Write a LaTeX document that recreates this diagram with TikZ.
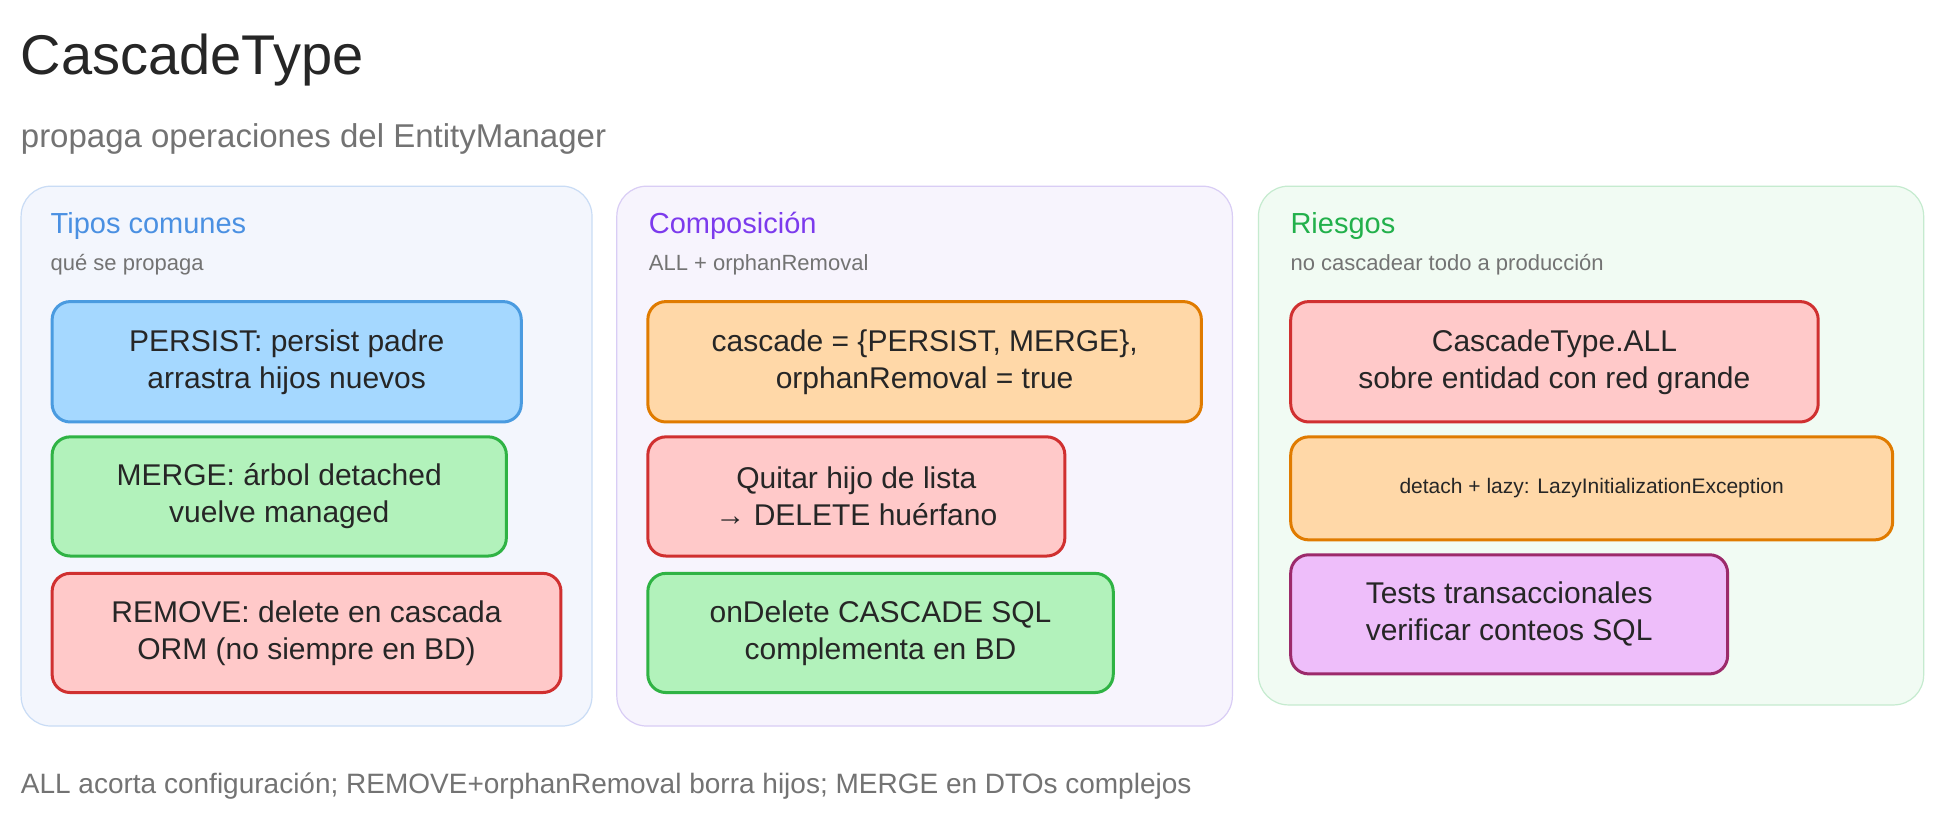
\documentclass[tikz,border=0pt]{standalone}
\usepackage{fontspec}
\setmainfont{Liberation Sans}
\begin{document}
\begin{tikzpicture}[x=1.241pt,y=-1.241pt,
 panel/.style={rounded corners=30pt,line width=1.2pt},
 box/.style={rounded corners=18pt,line width=3pt,align=center,font=\fontsize{30}{37}\selectfont,text=black!85},
 ptitle/.style={anchor=west,font=\fontsize{29}{34}\selectfont},
 psub/.style={anchor=west,font=\fontsize{22}{26}\selectfont,text=black!55}]
\definecolor{bluef}{HTML}{A5D8FF}\definecolor{blues}{HTML}{4A9BE0}
\definecolor{greenf}{HTML}{B2F2BB}\definecolor{greens}{HTML}{2FB344}
\definecolor{redf}{HTML}{FFC9C9}\definecolor{reds}{HTML}{D03030}
\definecolor{oranf}{HTML}{FFD8A8}\definecolor{orans}{HTML}{E07B00}
\definecolor{purf}{HTML}{EEBEFA}\definecolor{purs}{HTML}{9C2A6B}
\definecolor{p1f}{HTML}{F3F6FD}\definecolor{p1s}{HTML}{C9DCF5}
\definecolor{p2f}{HTML}{F7F4FD}\definecolor{p2s}{HTML}{D9CDF5}
\definecolor{p3f}{HTML}{F1FBF3}\definecolor{p3s}{HTML}{C5EBCF}
\definecolor{t1c}{HTML}{4A90E2}\definecolor{t2c}{HTML}{7C3AED}\definecolor{t3c}{HTML}{22B04B}
\useasboundingbox[fill=white] (0,0) rectangle (1568,663);
\node[anchor=west,font=\fontsize{56}{66}\selectfont,text=black!85] (title) at (14,48) {CascadeType};
\node[anchor=west,font=\fontsize{33}{40}\selectfont,text=black!55] (sub) at (14,112) {propaga operaciones del EntityManager};
% panels
\draw[panel,fill=p1f,draw=p1s] (17,150) rectangle (477,585);
\draw[panel,fill=p2f,draw=p2s] (497,150) rectangle (993,585);
\draw[panel,fill=p3f,draw=p3s] (1014,150) rectangle (1550,568);
\node[ptitle,text=t1c] (t1) at (38,182) {Tipos comunes};
\node[psub] (s1) at (38,213) {qué se propaga};
\node[ptitle,text=t2c] (t2) at (520,182) {Composición};
\node[psub] (s2) at (520,213) {ALL + orphanRemoval};
\node[ptitle,text=t3c] (t3) at (1037,182) {Riesgos};
\node[psub] (s3) at (1037,213) {no cascadear todo a producción};
% boxes
\draw[box,fill=bluef,draw=blues] (42,243) rectangle node (b1) {PERSIST: persist padre\\arrastra hijos nuevos} (420,340);
\draw[box,fill=greenf,draw=greens] (42,352) rectangle node (b2) {MERGE: árbol detached\\vuelve managed} (408,448);
\draw[box,fill=redf,draw=reds] (42,462) rectangle node (b3) {REMOVE: delete en cascada\\ORM (no siempre en BD)} (452,558);
\draw[box,fill=oranf,draw=orans] (522,243) rectangle node (c1) {cascade = \{PERSIST, MERGE\},\\orphanRemoval = true} (968,340);
\draw[box,fill=redf,draw=reds] (522,352) rectangle node (c2) {Quitar hijo de lista\\→ DELETE huérfano} (858,448);
\draw[box,fill=greenf,draw=greens] (522,462) rectangle node (c3) {onDelete CASCADE SQL\\complementa en BD} (897,558);
\draw[box,fill=redf,draw=reds] (1040,243) rectangle node (r1) {CascadeType.ALL\\sobre entidad con red grande} (1465,340);
\draw[box,fill=oranf,draw=orans] (1040,352) rectangle node[font=\fontsize{21}{26}\selectfont] (r2) {detach + lazy: LazyInitializationException} (1525,435);
\draw[box,fill=purf,draw=purs] (1040,447) rectangle node (r3) {Tests transaccionales\\verificar conteos SQL} (1392,543);
\node[anchor=west,font=\fontsize{28}{33}\selectfont,text=black!55] (foot) at (14,633) {ALL acorta configuración; REMOVE+orphanRemoval borra hijos; MERGE en DTOs complejos};
\end{tikzpicture}
\end{document}
